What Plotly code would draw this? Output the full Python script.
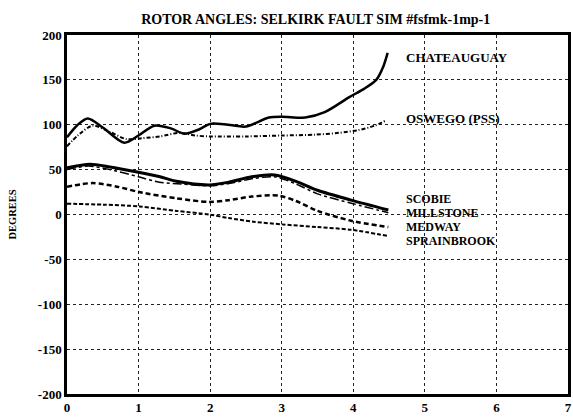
import plotly.graph_objects as go

# ---- data ----
chat_t = [0, 0.15, 0.29, 0.5, 0.8, 1.0, 1.22, 1.45, 1.64, 1.85, 2.0, 2.25, 2.5, 2.82, 3.0, 3.33, 3.6, 3.95, 4.15, 4.32, 4.42, 4.48]
chat_v = [86, 100, 107, 97, 80, 88, 99, 96, 90, 95, 101, 100, 98, 108, 109, 108, 114, 131, 140, 150, 165, 180]

osw_t = [0, 0.15, 0.36, 0.6, 0.83, 1.05, 1.3, 1.57, 1.8, 2.0, 2.5, 3.0, 3.47, 3.8, 4.07, 4.3, 4.46]
osw_v = [76, 88, 99, 92, 84, 85, 87, 91, 88, 87, 87, 88, 89, 91, 94, 99, 105]

sco_t = [0, 0.32, 0.6, 1.0, 1.3, 1.53, 1.99, 2.26, 2.58, 2.9, 3.2, 3.5, 3.97, 4.49]
sco_v = [52, 56, 53, 47, 42, 37, 33, 36, 42, 44, 37, 27, 16, 5]

mil_t = [0, 0.3, 0.6, 1.0, 1.29, 1.6, 2.0, 2.3, 2.6, 2.9, 3.2, 3.5, 4.0, 4.49]
mil_v = [50, 54, 50, 42, 36, 34, 32, 35, 40, 42, 34, 23, 12, 2]

med_t = [0, 0.36, 0.7, 1.01, 1.53, 1.99, 2.26, 2.58, 2.96, 3.2, 3.5, 3.97, 4.49]
med_v = [31, 35, 31, 25, 18, 14, 16, 20, 21, 15, 4, -7, -14]

spr_t = [0, 0.5, 1.01, 1.53, 1.99, 2.26, 2.6, 3.0, 3.5, 3.97, 4.49]
spr_v = [12, 11, 9, 4, 0, -4, -8, -11, -14, -17, -24]

series_names = ["CHATEAUGUAY", "OSWEGO (PSS)", "SCOBIE", "MILLSTONE", "MEDWAY", "SPRAINBROOK"]
label_y = [175, 107, 17, 1.5, -14, -29.5]

x_ticks = [0, 1, 2, 3, 4, 5, 6, 7]
y_ticks = [-200, -150, -100, -50, 0, 50, 100, 150, 200]
y_ticktext = ["-200", "-150", "-100", "-50", "0", "50", "100", "150", "200"]

title_text = "ROTOR ANGLES: SELKIRK FAULT SIM #fsfmk-1mp-1"
y_title = "DEGREES"

FONT = "Liberation Serif"

styles = [
    dict(width=2.5, dash="solid"),
    dict(width=2, dash="4px,2px,1px,2px"),
    dict(width=3, dash="solid"),
    dict(width=1.5, dash="dashdot"),
    dict(width=2.5, dash="5px,3px"),
    dict(width=2, dash="4px,2px"),
]

data = [(chat_t, chat_v), (osw_t, osw_v), (sco_t, sco_v), (mil_t, mil_v), (med_t, med_v), (spr_t, spr_v)]

fig = go.Figure()
for (t, v), name, st in zip(data, series_names, styles):
    fig.add_trace(go.Scatter(
        x=t, y=v, mode="lines", name=name,
        line=dict(color="black", width=st["width"], dash=st["dash"], shape="spline", smoothing=0.8),
        showlegend=False,
    ))

for i, (name, ly) in enumerate(zip(series_names, label_y)):
    fig.add_annotation(
        x=4.72, y=ly, text=name, showarrow=False, xanchor="left", yanchor="middle",
        font=dict(family=FONT, size=13 if i < 2 else 12, color="black", weight="bold"),
        borderpad=0,
    )

fig.update_layout(
    width=573, height=417,
    margin=dict(l=67, r=2, t=35, b=23),
    paper_bgcolor="white", plot_bgcolor="white",
    title=dict(text=title_text, x=0.551, xanchor="center", y=0.955, yanchor="middle",
               font=dict(family=FONT, size=14, color="black", weight="bold")),
)
fig.update_xaxes(
    range=[0, 7], tickvals=x_ticks, showgrid=True, gridcolor="#222", gridwidth=1.2, griddash="dot",
    showline=True, linecolor="black", linewidth=2.5, mirror=True, zeroline=False,
    ticks="", tickfont=dict(family=FONT, size=13, color="black", weight="bold"),
)
fig.update_yaxes(
    range=[-200, 200], tickvals=y_ticks, ticktext=y_ticktext, showgrid=True, gridcolor="#222",
    gridwidth=1.2, griddash="dot", showline=True, linecolor="black", linewidth=2.5, mirror=True,
    zeroline=False, ticks="", tickfont=dict(family=FONT, size=13, color="black", weight="bold"),
    title=dict(text=y_title, font=dict(family=FONT, size=10.5, color="black", weight="bold"), standoff=20),
)

fig.write_html("out.html", config={"displayModeBar": False},
               post_script="document.body.style.margin='0';")
